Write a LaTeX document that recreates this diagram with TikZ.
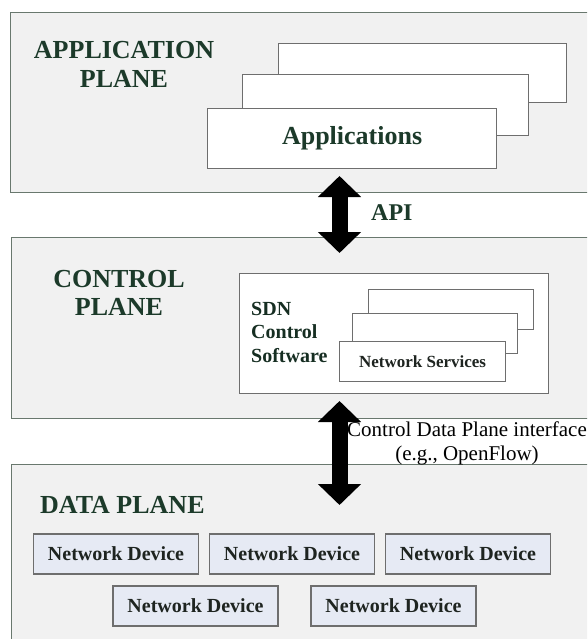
\documentclass[tikz,border=0pt]{standalone}
\usepackage{fontspec}
\setmainfont{Liberation Serif}
\usetikzlibrary{arrows.meta}
\definecolor{headgreen}{RGB}{28,58,42}
\definecolor{planefill}{RGB}{241,241,241}
\definecolor{planeedge}{RGB}{105,120,110}
\definecolor{boxedge}{RGB}{110,110,110}
\definecolor{devfill}{RGB}{230,234,244}
\definecolor{devtext}{RGB}{30,36,32}
\tikzset{
  plane/.style={draw=planeedge, fill=planefill, line width=1.4pt, anchor=north west, inner sep=0pt},
  whitebox/.style={draw=boxedge, fill=white, line width=1.2pt, anchor=north west, inner sep=0pt},
  devbox/.style={draw=boxedge, fill=devfill, line width=1.2pt, minimum width=165pt, minimum height=40pt, inner sep=0pt,
    font=\fontsize{20}{24}\selectfont\bfseries, text=devtext},
  heading/.style={font=\fontsize{26}{30}\selectfont\bfseries, text=headgreen, inner sep=0pt, align=center},
  bigarrow/.style={line width=16pt, {Triangle[width=42pt,length=21pt]}-{Triangle[width=42pt,length=21pt]}},
}
\begin{document}
\begin{tikzpicture}[x=1pt,y=-1pt]
\useasboundingbox (0,0) rectangle (587,639);
\clip (0,0) rectangle (587,639);
% planes
\node[plane, minimum width=600pt, minimum height=180pt] (app) at (10,12) {};
\node[plane, minimum width=600pt, minimum height=181pt] (ctrl) at (11,237) {};
\node[plane, minimum width=600pt, minimum height=200pt] (data) at (11,464) {};
% application plane
\node[heading, anchor=north] (applabel) at (124,41) {APPLICATION\\[-1pt]PLANE};
\node[whitebox, minimum width=288pt, minimum height=59pt] (appback) at (278,43) {};
\node[whitebox, minimum width=286pt, minimum height=61pt] (appmid) at (242,74) {};
\node[whitebox, minimum width=289pt, minimum height=60pt] (appfront) at (207,108) {};
\node[font=\fontsize{26}{30}\selectfont\bfseries, text=headgreen] (applications) at (appfront.center) {Applications};
% control plane
\node[heading, anchor=north] (ctrllabel) at (119,270) {CONTROL\\[-2pt]PLANE};
\node[whitebox, minimum width=309pt, minimum height=120pt] (sdn) at (239,273) {};
\node[font=\fontsize{20}{23.5}\selectfont\bfseries, text=headgreen!80!black, align=left, anchor=north west, inner sep=0pt] (sdnlabel) at (251,302) {SDN\\Control\\Software};
\node[whitebox, minimum width=165pt, minimum height=40pt] (nsback) at (368,289) {};
\node[whitebox, minimum width=165pt, minimum height=40pt] (nsmid) at (352,313) {};
\node[whitebox, minimum width=166pt, minimum height=40pt] (nsfront) at (339,341) {};
\node[font=\fontsize{17}{20}\selectfont\bfseries, text=devtext] (nstext) at (nsfront.center) {Network Services};
% data plane
\node[font=\fontsize{26}{30}\selectfont\bfseries, text=headgreen, anchor=base west, inner sep=0pt] (datalabel) at (40,513) {DATA PLANE};
\node[devbox] (d1) at (116,554) {Network Device};
\node[devbox] (d2) at (292,554) {Network Device};
\node[devbox] (d3) at (468,554) {Network Device};
\node[devbox] (d4) at (195.5,606) {Network Device};
\node[devbox] (d5) at (393.5,606) {Network Device};
% arrows
\coordinate (apiTop) at (339.5,176);
\coordinate (apiBot) at (339.5,253);
\coordinate (cdTop) at (339.5,401);
\coordinate (cdBot) at (339.5,505);
\draw[bigarrow] (apiTop) -- (apiBot);
\draw[bigarrow] (cdTop) -- (cdBot);
\node[font=\fontsize{24}{28}\selectfont\bfseries, text=headgreen, anchor=base west, inner sep=0pt] (api) at (371,220) {API};
\node[font=\fontsize{21}{24}\selectfont, align=center, anchor=north, inner sep=0pt] (cdpi) at (467,422) {Control Data Plane interface\\(e.g., OpenFlow)};
\end{tikzpicture}
\end{document}
